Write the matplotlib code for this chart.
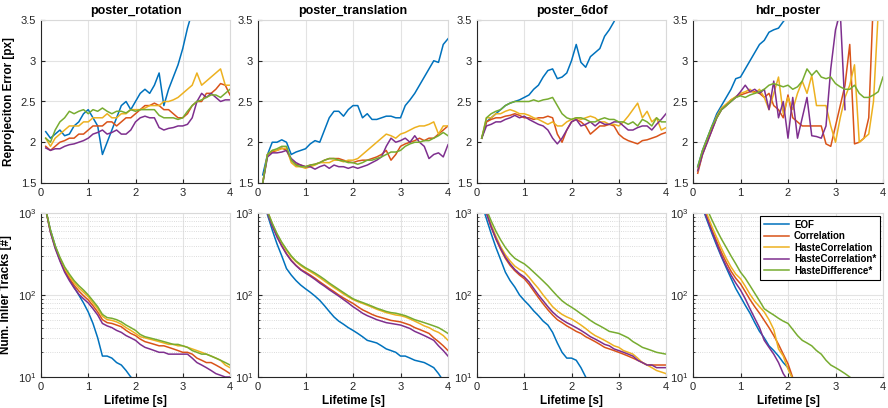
import numpy as np
import matplotlib
matplotlib.use('Agg')
import matplotlib.pyplot as plt
from matplotlib.ticker import LogLocator, NullFormatter

plt.rcParams['font.family'] = ['Liberation Sans', 'DejaVu Sans']
plt.rcParams['mathtext.default'] = 'regular'

# Legend names and MATLAB default colours
methods = ['EOF', 'Correlation', 'HasteCorrelation', 'HasteCorrelation*', 'HasteDifference*']
colors = ['#0072BD', '#D95319', '#EDB120', '#7E2F8E', '#77AC30']
titles = ['poster_rotation', 'poster_translation', 'poster_6dof', 'hdr_poster']

# Lifetime sample points [s]
t = [0.1, 0.2, 0.3, 0.4, 0.5, 0.6, 0.7, 0.8, 0.9, 1.0,
     1.1, 1.2, 1.3, 1.4, 1.5, 1.6, 1.7, 1.8, 1.9, 2.0,
     2.1, 2.2, 2.3, 2.4, 2.5, 2.6, 2.7, 2.8, 2.9, 3.0,
     3.1, 3.2, 3.3, 3.4, 3.5, 3.6, 3.7, 3.8, 3.9, 4.0]

# Reprojection error [px], one list per method
err_rotation = [
    [2.13, 2.05, 2.1, 2.15, 2.08, 2.1, 2.2, 2.25, 2.35, 2.4, 2.3, 2.2, 1.85, 2.0, 2.15, 2.3, 2.45, 2.5, 2.4, 2.5,
     2.6, 2.65, 2.6, 2.7, 2.85, 2.45, 2.65, 2.8, 2.95, 3.15, 3.4, 3.6, 3.9],
    [1.95, 1.9, 1.95, 2.0, 2.02, 2.05, 2.05, 2.1, 2.1, 2.15, 2.2, 2.2, 2.2, 2.25, 2.25, 2.2, 2.25, 2.3, 2.3, 2.35,
     2.4, 2.45, 2.45, 2.48, 2.45, 2.4, 2.4, 2.35, 2.3, 2.3, 2.35, 2.45, 2.5, 2.5, 2.6, 2.6, 2.65, 2.72, 2.7, 2.58],
    [2.05, 1.95, 2.05, 2.1, 2.15, 2.2, 2.2, 2.2, 2.25, 2.25, 2.3, 2.3, 2.3, 2.35, 2.3, 2.3, 2.35, 2.35, 2.4, 2.4,
     2.4, 2.42, 2.45, 2.45, 2.45, 2.5, 2.5, 2.52, 2.55, 2.6, 2.65, 2.7, 2.85, 2.7, 2.75, 2.8, 2.85, 2.9, 2.7, 2.7],
    [1.93, 1.9, 1.92, 1.92, 1.95, 1.97, 1.98, 2.0, 2.02, 2.05, 2.1, 2.12, 2.15, 2.1, 2.12, 2.15, 2.1, 2.1, 2.15, 2.25,
     2.3, 2.32, 2.3, 2.3, 2.18, 2.15, 2.17, 2.18, 2.2, 2.2, 2.22, 2.3, 2.5, 2.6, 2.55, 2.6, 2.55, 2.5, 2.52, 2.52],
    [2.05, 2.0, 2.15, 2.25, 2.3, 2.38, 2.35, 2.38, 2.4, 2.35, 2.4, 2.38, 2.42, 2.38, 2.35, 2.38, 2.38, 2.36, 2.4, 2.38,
     2.4, 2.4, 2.4, 2.4, 2.33, 2.3, 2.3, 2.3, 2.28, 2.3, 2.38, 2.45, 2.5, 2.52, 2.55, 2.58, 2.58, 2.55, 2.6, 2.65],
]
err_translation = [
    [1.6, 1.85, 2.0, 2.0, 2.03, 2.0, 1.85, 1.88, 1.9, 1.92, 1.98, 2.02, 2.0, 2.15, 2.3, 2.38, 2.38, 2.32, 2.4, 2.45,
     2.45, 2.3, 2.35, 2.28, 2.28, 2.3, 2.32, 2.32, 2.3, 2.3, 2.45, 2.52, 2.6, 2.7, 2.8, 2.9, 3.0, 2.98, 3.2, 3.27],
    [1.5, 1.85, 1.88, 1.9, 1.93, 1.9, 1.78, 1.73, 1.72, 1.7, 1.72, 1.73, 1.75, 1.78, 1.8, 1.8, 1.8, 1.78, 1.76, 1.75,
     1.77, 1.78, 1.78, 1.8, 1.82, 1.85, 1.9, 1.78, 1.85, 1.95, 1.98, 2.0, 2.02, 2.05, 2.02, 2.05, 2.05, 2.1, 2.15, 2.2],
    [1.5, 1.85, 1.9, 1.9, 1.92, 1.93, 1.75, 1.7, 1.7, 1.68, 1.7, 1.72, 1.75, 1.75, 1.75, 1.78, 1.78, 1.76, 1.78, 1.78,
     1.8, 1.85, 1.9, 1.95, 2.0, 2.05, 2.1, 2.08, 2.05, 2.1, 2.12, 2.15, 2.18, 2.2, 2.2, 2.22, 2.25, 2.1, 2.2, 2.2],
    [1.5, 1.82, 1.87, 1.87, 1.88, 1.9, 1.8, 1.75, 1.72, 1.7, 1.7, 1.67, 1.7, 1.72, 1.68, 1.72, 1.7, 1.7, 1.68, 1.7,
     1.68, 1.7, 1.72, 1.75, 1.78, 1.82, 1.95, 2.05, 2.0, 2.02, 2.05, 2.0, 2.08, 2.0, 1.95, 1.8, 1.85, 1.87, 1.82, 1.97],
    [1.5, 1.85, 1.9, 1.92, 1.95, 1.95, 1.78, 1.72, 1.7, 1.7, 1.72, 1.73, 1.75, 1.78, 1.8, 1.8, 1.78, 1.77, 1.75, 1.75,
     1.73, 1.75, 1.78, 1.78, 1.8, 1.82, 1.85, 1.88, 1.88, 1.9, 1.95, 1.98, 2.0, 2.0, 2.02, 2.02, 2.05, 2.08, 2.12, 2.08],
]
err_6dof = [
    [2.05, 2.25, 2.3, 2.35, 2.4, 2.45, 2.48, 2.5, 2.52, 2.55, 2.58, 2.65, 2.7, 2.8, 2.88, 2.9, 2.78, 2.8, 2.85, 3.0,
     3.2, 2.98, 2.92, 3.05, 3.1, 3.15, 3.3, 3.38, 3.48, 3.6, 3.75],
    [2.05, 2.25, 2.28, 2.3, 2.3, 2.32, 2.33, 2.35, 2.33, 2.3, 2.3, 2.28, 2.3, 2.3, 2.32, 2.3, 2.1, 2.0, 2.15, 2.25,
     2.28, 2.25, 2.2, 2.1, 2.15, 2.2, 2.2, 2.22, 2.2, 2.1, 2.05, 2.02, 2.0, 1.98, 2.02, 2.03, 2.05, 2.07, 2.1, 2.12],
    [2.05, 2.3, 2.3, 2.35, 2.35, 2.38, 2.4, 2.38, 2.35, 2.35, 2.33, 2.3, 2.28, 2.25, 2.22, 2.25, 2.2, 2.2, 2.25, 2.28,
     2.3, 2.28, 2.3, 2.32, 2.3, 2.25, 2.25, 2.22, 2.22, 2.2, 2.25, 2.32, 2.4, 2.48, 2.3, 2.38, 2.25, 2.3, 2.15, 2.18],
    [2.05, 2.2, 2.22, 2.25, 2.25, 2.28, 2.3, 2.33, 2.3, 2.32, 2.28, 2.25, 2.22, 2.2, 2.15, 2.05, 1.98, 2.05, 2.15, 2.25,
     2.28, 2.2, 2.22, 2.25, 2.2, 2.25, 2.22, 2.22, 2.25, 2.25, 2.2, 2.15, 2.15, 2.18, 2.2, 2.2, 2.15, 2.22, 2.28, 2.35],
    [2.05, 2.3, 2.35, 2.38, 2.4, 2.45, 2.48, 2.5, 2.5, 2.5, 2.5, 2.52, 2.5, 2.52, 2.53, 2.55, 2.45, 2.35, 2.3, 2.28,
     2.3, 2.3, 2.28, 2.25, 2.25, 2.28, 2.3, 2.28, 2.28, 2.25, 2.25, 2.22, 2.25, 2.2, 2.28, 2.25, 2.2, 2.3, 2.25, 2.25],
]
err_hdr = [
    [1.7, 1.9, 2.05, 2.2, 2.35, 2.45, 2.55, 2.65, 2.78, 2.8, 2.9, 3.0, 3.1, 3.2, 3.25, 3.35, 3.38, 3.4, 3.48, 3.55],
    [1.62, 1.85, 2.0, 2.15, 2.3, 2.4, 2.45, 2.52, 2.55, 2.58, 2.6, 2.62, 2.62, 2.6, 2.55, 2.6, 2.45, 2.4, 2.3, 2.58,
     2.3, 2.25, 2.2, 2.2, 2.2, 2.2, 2.2, 1.98, 1.95, 2.2, 2.45, 2.7, 3.2, 1.98, 2.0, 2.05, 2.3, 3.8],
    [1.65, 1.88, 2.02, 2.18, 2.32, 2.42, 2.47, 2.52, 2.56, 2.6, 2.62, 2.65, 2.6, 2.65, 2.55, 2.4, 2.6, 2.8, 2.35, 2.55,
     2.4, 2.6, 2.75, 2.6, 2.82, 2.45, 2.45, 2.45, 2.2, 2.0, 2.3, 2.55, 2.7, 2.95, 2.0, 2.05, 2.1, 2.5, 3.6],
    [1.65, 1.85, 2.0, 2.15, 2.3, 2.4, 2.45, 2.5, 2.55, 2.62, 2.7, 2.62, 2.65, 2.6, 2.65, 2.4, 2.75, 2.3, 2.5, 2.05,
     2.55, 2.05, 2.3, 2.55, 2.08, 2.07, 2.05, 2.2, 2.9, 3.38, 3.6, 2.4],
    [1.7, 1.9, 2.05, 2.2, 2.3, 2.4, 2.45, 2.5, 2.55, 2.57, 2.55, 2.58, 2.6, 2.62, 2.65, 2.7, 2.72, 2.7, 2.68, 2.7,
     2.65, 2.68, 2.75, 2.9, 2.82, 2.88, 2.8, 2.78, 2.8, 2.72, 2.68, 2.65, 2.65, 2.7, 2.6, 2.55, 2.55, 2.58, 2.62, 2.8],
]

# Number of inlier tracks, one list per method
trk_rotation = [
    [1100, 620, 400, 270, 200, 155, 125, 100, 80, 62, 45, 30, 18, 18, 17, 15, 14, 12, 10, 9],
    [1100, 590, 380, 270, 200, 160, 132, 112, 98, 87, 74, 62, 50, 46, 45, 43, 41, 37, 34, 32,
     29, 27, 26, 25, 24, 24, 23, 22, 21, 20, 20, 19, 17, 16, 15, 15, 14, 13, 12, 11],
    [1100, 600, 390, 280, 210, 170, 142, 122, 108, 95, 80, 68, 55, 50, 49, 47, 44, 40, 37, 34,
     31, 30, 29, 28, 27, 26, 25, 25, 24, 24, 23, 22, 21, 20, 19, 18, 17, 16, 14, 13],
    [1100, 580, 370, 260, 190, 150, 122, 102, 90, 80, 68, 57, 45, 42, 40, 37, 35, 32, 30, 28,
     25, 23, 22, 21, 20, 20, 19, 19, 19, 19, 19, 17, 15, 14, 13, 12, 11, 10.5, 10, 10],
    [1100, 620, 400, 290, 220, 180, 150, 130, 115, 100, 85, 72, 58, 53, 52, 50, 47, 43, 40, 37,
     33, 31, 30, 29, 28, 27, 26, 25, 25, 24, 23, 21, 20, 19, 19, 18, 17, 16, 15, 14],
]
trk_translation = [
    [1600, 950, 620, 420, 300, 210, 175, 150, 132, 119, 108, 97, 86, 74, 63, 54, 48, 44, 40, 37,
     34, 31, 28, 27, 26, 24, 22, 21, 20, 18, 18, 17, 16, 15.5, 15, 14, 13, 11, 9],
    [1750, 1000, 700, 520, 400, 320, 265, 230, 205, 190, 175, 160, 145, 132, 120, 110, 100, 92, 85, 79,
     72, 66, 62, 58, 55, 53, 51, 49, 48, 47, 45, 43, 40, 38, 36, 34, 30, 27, 24, 21],
    [1800, 1050, 740, 550, 430, 350, 292, 255, 228, 208, 193, 178, 163, 148, 135, 123, 113, 103, 95, 88,
     83, 79, 75, 71, 67, 64, 61, 59, 57, 56, 54, 51, 48, 45, 42, 40, 37, 35, 32, 28],
    [1750, 1000, 700, 510, 395, 315, 262, 228, 202, 185, 170, 155, 140, 128, 116, 106, 97, 88, 80, 72,
     66, 60, 56, 53, 50, 48, 46, 45, 44, 43, 41, 39, 36, 34, 32, 30, 28, 24, 21, 18],
    [1800, 1050, 750, 560, 440, 360, 300, 260, 235, 215, 200, 185, 170, 155, 140, 128, 117, 107, 98, 90,
     85, 81, 77, 73, 69, 66, 63, 61, 60, 58, 56, 53, 50, 48, 46, 44, 42, 40, 37, 34],
]
trk_6dof = [
    [1300, 850, 560, 380, 270, 190, 150, 125, 100, 86, 75, 64, 56, 48, 43, 35, 26, 20, 17, 17, 16, 13, 10],
    [1750, 1000, 670, 480, 360, 280, 230, 198, 175, 158, 135, 112, 93, 78, 66, 57, 50, 46, 42, 39,
     36, 34, 31, 29, 27, 25, 23, 22, 21, 20, 19, 18, 17, 16, 15, 14, 14, 14, 14, 14],
    [1800, 1050, 720, 520, 390, 310, 260, 225, 205, 190, 165, 140, 120, 100, 85, 72, 64, 58, 54, 51,
     47, 43, 39, 35, 32, 30, 28, 26, 24, 23, 21, 20, 19, 17, 15, 14, 13, 12, 11.5, 11],
    [1750, 1000, 680, 490, 370, 290, 240, 205, 182, 166, 145, 120, 100, 85, 72, 62, 55, 50, 46, 43,
     40, 37, 34, 31, 29, 27, 25, 24, 22, 21, 20, 19, 18, 16, 15, 14, 14, 13, 13, 13],
    [1800, 1100, 800, 600, 470, 380, 320, 280, 258, 240, 215, 190, 168, 148, 130, 112, 97, 85, 77, 71,
     65, 59, 54, 49, 45, 42, 39, 36, 35, 34, 32, 30, 27, 25, 23, 22, 21, 20, 19.5, 19],
]
trk_hdr = [
    [1800, 1150, 800, 560, 400, 290, 215, 160, 120, 95, 75, 60, 46, 36, 30, 24, 21, 18, 15, 13, 9.5],
    [1900, 1250, 880, 620, 450, 330, 250, 195, 160, 137, 110, 88, 72, 60, 49, 40, 32, 25, 19, 14.5, 9.8],
    [2000, 1350, 950, 680, 500, 370, 280, 220, 180, 158, 128, 102, 84, 72, 62, 50, 38, 22, 18, 12.5, 9.5],
    [1850, 1200, 840, 590, 420, 300, 225, 175, 140, 115, 90, 68, 52, 40, 28, 23, 19, 15, 11, 9],
    [2200, 1600, 1100, 820, 620, 480, 380, 300, 240, 190, 160, 130, 105, 85, 68, 62, 57, 52, 48, 45,
     38, 32, 28, 26, 24, 21, 19, 16, 14, 13, 12, 11, 10, 9],
]

err_data = [err_rotation, err_translation, err_6dof, err_hdr]
trk_data = [trk_rotation, trk_translation, trk_6dof, trk_hdr]

W, H = 888, 408
fig = plt.figure(figsize=(W / 100, H / 100), dpi=100)

col_px = [(41, 230), (258, 448), (477, 666), (693, 883)]
top_row = (20, 183)
bot_row = (213, 377)


def make_axes(xs, ys):
    return fig.add_axes([xs[0] / W, 1 - ys[1] / H, (xs[1] - xs[0]) / W, (ys[1] - ys[0]) / H])


def style(ax):
    ax.set_xlim(0, 4)
    ax.set_xticks([0, 1, 2, 3, 4])
    ax.tick_params(direction='in', labelsize=8, length=3, colors='#262626', which='both')
    ax.tick_params(which='minor', length=1.5)
    for s in ['left', 'bottom']:
        ax.spines[s].set_color('#262626')
        ax.spines[s].set_linewidth(0.8)
    for s in ['top', 'right']:
        ax.spines[s].set_color('#d9d9d9')
        ax.spines[s].set_linewidth(0.8)
    ax.set_axisbelow(True)


for i in range(4):
    # top: reprojection error
    ax = make_axes(col_px[i], top_row)
    for k in range(5):
        y = err_data[i][k]
        ax.plot(t[:len(y)], y, color=colors[k], lw=1.1)
    style(ax)
    ax.set_ylim(1.5, 3.5)
    ax.set_yticks([1.5, 2, 2.5, 3, 3.5])
    ax.set_yticklabels(['1.5', '2', '2.5', '3', '3.5'])
    ax.grid(True, color='#e3e3e3', lw=0.8)
    ax.set_title(titles[i], fontsize=9, fontweight='bold', pad=4)
    if i == 0:
        ax.set_ylabel('Reprojeciton Error [px]', fontsize=8.5, fontweight='bold')

    # bottom: inlier tracks
    ax2 = make_axes(col_px[i], bot_row)
    lines = []
    for k in range(5):
        y = trk_data[i][k]
        ln, = ax2.plot(t[:len(y)], y, color=colors[k], lw=1.1, label=methods[k])
        lines.append(ln)
    ax2.set_yscale('log')
    style(ax2)
    ax2.set_ylim(10, 1000)
    ax2.yaxis.set_major_locator(LogLocator(base=10, numticks=5))
    ax2.yaxis.set_minor_locator(LogLocator(base=10, subs=np.arange(2, 10), numticks=20))
    ax2.yaxis.set_minor_formatter(NullFormatter())
    ax2.grid(True, which='major', color='#e3e3e3', lw=0.8)
    ax2.grid(True, which='minor', axis='y', color='#d0d0d0', lw=0.6, ls=':')
    ax2.set_xlabel('Lifetime [s]', fontsize=8.5, fontweight='bold', labelpad=2)
    if i == 0:
        ax2.set_ylabel('Num. Inlier Tracks [#]', fontsize=8.5, fontweight='bold')
    if i == 3:
        leg = ax2.legend(loc='upper right', fontsize=7, prop={'weight': 'bold', 'size': 7},
                         fancybox=False, framealpha=1, edgecolor='black',
                         borderaxespad=0.3, handlelength=2.6, labelspacing=0.15,
                         borderpad=0.4, handletextpad=0.5)
        leg.get_frame().set_linewidth(0.8)

fig.savefig('out.png', dpi=100)
